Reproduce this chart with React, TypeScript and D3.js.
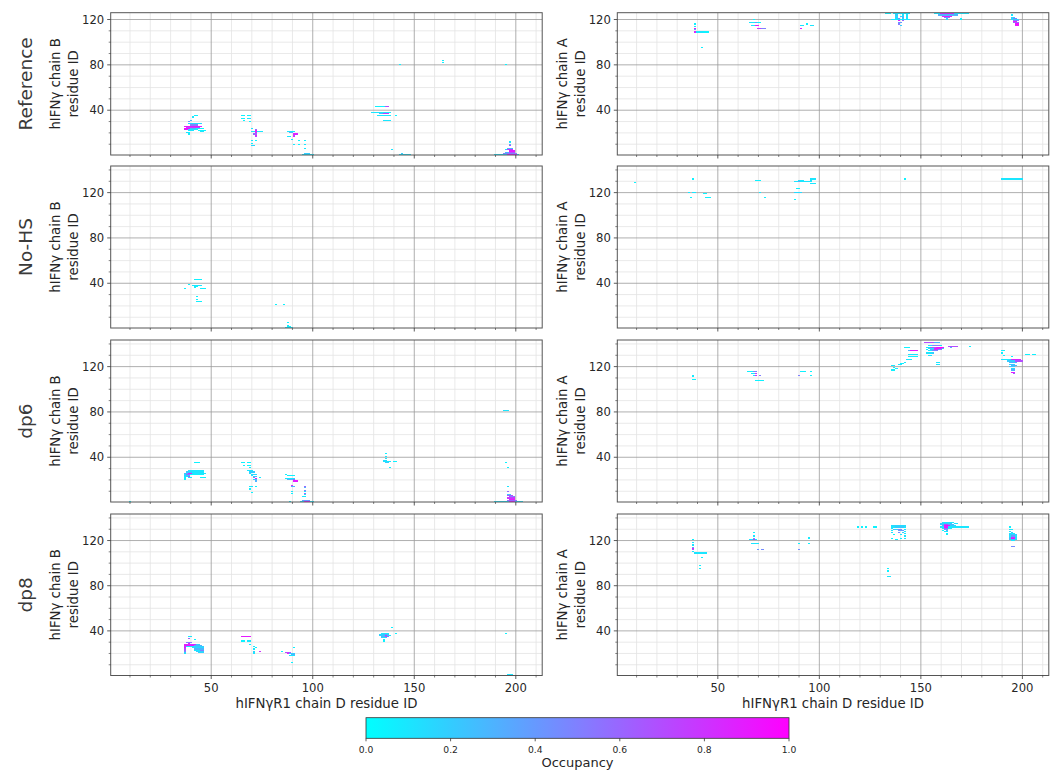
import React from 'react';
import * as d3 from 'd3';

// [x0, x1, y, occupancy] : horizontal runs of contact cells (x0..x1 inclusive, residue IDs)
type Run = [number, number, number, number];

const rowLabels = ['Reference', 'No-HS', 'dp6', 'dp8'];
const rowYMax = [126, 143.5, 143.5, 143.5];
const colYLabels = ['hIFNγ chain B', 'hIFNγ chain A'];
const yLabelLine2 = 'residue ID';
const xLabel = 'hIFNγR1 chain D residue ID';
const xDomain = [0.5, 213];
const xMajorTicks = [50, 100, 150, 200];
const xMinorTicks = [10, 20, 30, 40, 60, 70, 80, 90, 110, 120, 130, 140, 160, 170, 180, 190, 210];
const yMajorTicks = [40, 80, 120];
const yMinorTicks = [10, 20, 30, 50, 60, 70, 90, 100, 110, 130, 140];
const cbarTicks = [0, 0.2, 0.4, 0.6, 0.8, 1.0];
const cbarLabel = 'Occupancy';

const refB: Run[] = [
  [42, 43, 35, 0.05], [41, 41, 34, 0.1], [40, 40, 31, 0.3], [39, 39, 30, 0.4],
  [39, 45, 28, 0.15], [40, 43, 27, 0.5], [37, 45, 26, 0.9], [38, 44, 25, 0.75],
  [37, 39, 24, 0.95], [40, 42, 24, 0.3], [43, 46, 24, 0.05], [37, 38, 23, 0.9], [39, 43, 23, 0.1],
  [39, 41, 22, 0.1], [44, 47, 22, 0.05], [45, 46, 21, 0.1], [38, 39, 20, 0.1], [39, 39, 19, 0.05],
  [65, 66, 35, 0.05], [68, 69, 35, 0.05], [65, 66, 33, 0.05], [68, 69, 33, 0.1], [66, 66, 31, 0.05],
  [69, 69, 30, 0.05], [70, 70, 24, 0.1], [72, 72, 23, 0.6], [72, 72, 22, 0.85], [70, 71, 21, 0.1],
  [72, 72, 21, 0.9], [73, 75, 21, 0.1], [72, 72, 20, 0.8], [71, 72, 19, 0.6], [72, 72, 18, 0.9],
  [72, 72, 17, 0.7], [70, 70, 13, 0.1], [72, 72, 13, 0.05], [70, 70, 11, 0.05], [70, 71, 9, 0.15],
  [88, 91, 21, 0.1], [89, 90, 20, 0.3], [91, 92, 19, 0.85], [91, 91, 18, 0.7], [91, 91, 17, 0.9],
  [88, 89, 17, 0.1], [90, 90, 14, 0.1], [93, 93, 13, 0.05], [91, 91, 10, 0.1], [93, 93, 10, 0.05],
  [96, 96, 13, 0.05], [96, 96, 10, 0.1], [96, 96, 6, 0.1], [95, 100, 1, 0.1], [96, 98, 2, 0.2],
  [131, 135, 43, 0.05], [136, 137, 43, 0.7], [129, 138, 38, 0.1], [133, 134, 37, 0.3], [135, 137, 37, 0.8],
  [132, 138, 35, 0.1], [141, 141, 35, 0.05], [135, 138, 31, 0.1],
  [139, 139, 5, 0.1], [143, 148, 1, 0.1], [144, 144, 2, 0.2],
  [143, 143, 80, 0.05], [164, 164, 84, 0.05], [164, 164, 82, 0.05], [195, 195, 80, 0.05],
  [197, 197, 12, 0.1], [197, 197, 10, 0.3], [197, 197, 9, 0.7], [196, 198, 6, 0.3], [195, 195, 5, 0.1],
  [196, 198, 5, 0.8], [197, 199, 4, 0.9], [195, 196, 3, 0.3], [197, 199, 3, 0.7], [194, 200, 2, 0.5],
  [190, 195, 1, 0.1], [196, 200, 1, 0.9], [201, 201, 1, 0.05],
];

const refA: Run[] = [
  [39, 39, 116, 0.05], [39, 39, 114, 0.1], [39, 39, 112, 0.9], [39, 39, 111, 0.3], [39, 39, 109, 0.85],
  [40, 42, 109, 0.1], [43, 45, 109, 0.05], [42, 42, 95, 0.05],
  [68, 68, 120, 0.05], [66, 68, 117, 0.1], [69, 69, 117, 0.4], [70, 71, 117, 0.05], [67, 68, 115, 0.1],
  [69, 70, 115, 0.9], [70, 71, 112, 0.8], [72, 73, 112, 0.5],
  [91, 91, 112, 0.9], [91, 92, 115, 0.1], [94, 94, 116, 0.05], [96, 97, 115, 0.1],
  [133, 135, 125, 0.05], [137, 144, 125, 0.1], [138, 138, 124, 0.2], [141, 141, 124, 0.1], [143, 143, 124, 0.1],
  [138, 138, 123, 0.1], [140, 141, 123, 0.2], [143, 143, 123, 0.1], [138, 138, 122, 0.2], [141, 141, 122, 0.3],
  [143, 143, 122, 0.1], [138, 138, 121, 0.1], [139, 139, 121, 0.5], [141, 141, 121, 0.2], [143, 143, 121, 0.1],
  [136, 144, 120, 0.1], [139, 139, 119, 0.9], [141, 141, 119, 0.6], [139, 140, 117, 0.4], [139, 139, 116, 0.5],
  [140, 140, 115, 0.2],
  [157, 173, 125, 0.1], [160, 166, 125, 0.85], [159, 168, 124, 0.3], [161, 165, 123, 0.9], [162, 164, 122, 0.5],
  [163, 163, 121, 0.2], [163, 163, 120, 0.1], [170, 170, 121, 0.05], [170, 170, 120, 0.05],
  [195, 195, 124, 0.1], [195, 196, 122, 0.2], [195, 195, 121, 0.1], [196, 197, 121, 0.5], [195, 198, 120, 0.2],
  [196, 198, 119, 0.5], [196, 197, 118, 0.9], [196, 198, 117, 0.6], [197, 198, 116, 0.95], [197, 198, 115, 0.9],
];

const noHsB: Run[] = [
  [37, 37, 35, 0.05], [39, 39, 39, 0.05], [42, 45, 43, 0.05], [41, 45, 38, 0.1], [42, 43, 37, 0.05],
  [42, 42, 36, 0.05], [45, 47, 35, 0.05], [43, 43, 28, 0.05], [43, 43, 26, 0.05], [43, 45, 24, 0.05],
  [82, 82, 21, 0.05], [86, 86, 21, 0.05], [88, 88, 5, 0.05], [88, 88, 3, 0.1], [87, 90, 1, 0.1], [88, 89, 2, 0.05],
];

const noHsA: Run[] = [
  [9, 9, 129, 0.05], [38, 38, 132, 0.05], [36, 36, 120, 0.1], [38, 39, 120, 0.1], [37, 37, 116, 0.05],
  [43, 44, 119, 0.05], [44, 46, 116, 0.05], [69, 71, 131, 0.05], [71, 71, 120, 0.1], [73, 73, 116, 0.05],
  [88, 89, 130, 0.1], [90, 90, 130, 0.35], [91, 96, 130, 0.1], [90, 92, 131, 0.1], [89, 90, 124, 0.05],
  [88, 91, 120, 0.15], [88, 88, 114, 0.05], [96, 98, 132, 0.1], [96, 96, 131, 0.1], [96, 98, 128, 0.1],
  [142, 142, 132, 0.05], [190, 200, 132, 0.1],
];

const dp6B: Run[] = [
  [10, 10, 1, 0.05],
  [42, 44, 35, 0.05], [39, 46, 28, 0.1], [38, 40, 27, 0.2], [41, 46, 27, 0.1], [37, 38, 26, 0.3],
  [39, 40, 26, 0.85], [41, 47, 26, 0.1], [37, 37, 25, 0.1], [38, 39, 25, 0.6], [40, 46, 25, 0.05],
  [37, 39, 24, 0.2], [37, 38, 23, 0.1], [39, 39, 23, 0.7], [37, 37, 22, 0.05], [39, 40, 22, 0.1],
  [45, 47, 22, 0.05], [37, 37, 21, 0.1], [37, 37, 20, 0.05],
  [65, 66, 35, 0.05], [68, 69, 35, 0.05], [66, 66, 33, 0.05], [68, 69, 33, 0.05], [69, 69, 31, 0.05],
  [68, 70, 28, 0.1], [69, 71, 27, 0.2], [69, 69, 26, 0.1], [70, 72, 25, 0.15], [70, 70, 24, 0.1],
  [71, 72, 23, 0.2], [74, 74, 22, 0.1], [71, 71, 22, 0.5], [72, 72, 21, 0.9], [71, 72, 20, 0.2],
  [72, 72, 19, 0.3], [69, 70, 14, 0.1], [72, 72, 14, 0.05], [69, 69, 12, 0.05], [70, 70, 9, 0.05],
  [87, 87, 25, 0.05], [88, 90, 24, 0.05], [91, 91, 24, 0.05], [87, 91, 21, 0.1], [88, 90, 20, 0.3],
  [91, 91, 20, 0.6], [91, 92, 19, 0.9], [90, 90, 15, 0.8], [90, 91, 14, 0.3], [90, 90, 10, 0.1],
  [90, 90, 8, 0.05], [89, 89, 1, 0.05],
  [96, 96, 14, 0.6], [96, 96, 13, 0.3], [96, 96, 11, 0.5], [96, 96, 10, 0.1], [96, 96, 8, 0.6],
  [96, 96, 7, 0.1], [95, 96, 5, 0.1], [95, 98, 2, 0.4], [94, 95, 1, 0.1], [96, 98, 1, 0.9], [99, 100, 1, 0.1],
  [136, 136, 43, 0.05], [136, 136, 41, 0.1], [136, 136, 39, 0.1], [135, 136, 37, 0.15], [135, 138, 36, 0.1],
  [140, 141, 36, 0.05], [136, 137, 35, 0.2], [138, 138, 31, 0.05],
  [194, 196, 81, 0.1], [195, 195, 35, 0.05], [196, 196, 31, 0.05],
  [196, 196, 14, 0.1], [196, 196, 10, 0.6], [196, 197, 7, 0.2], [196, 198, 6, 0.7], [197, 199, 5, 0.5],
  [196, 199, 4, 0.8], [197, 199, 3, 0.9], [196, 200, 2, 0.6], [190, 196, 1, 0.1], [197, 199, 1, 0.9],
  [200, 203, 1, 0.1],
];

const dp6A: Run[] = [
  [38, 38, 112, 0.1], [38, 38, 111, 0.05], [38, 39, 109, 0.05],
  [65, 67, 116, 0.05], [68, 69, 116, 0.5], [67, 68, 114, 0.1], [69, 69, 114, 0.8], [68, 68, 112, 0.1],
  [69, 69, 112, 0.9], [71, 71, 112, 0.5], [69, 70, 108, 0.05], [71, 72, 108, 0.05],
  [90, 90, 112, 0.5], [91, 91, 116, 0.05], [92, 93, 116, 0.05], [96, 96, 116, 0.05], [96, 96, 112, 0.05],
  [136, 137, 121, 0.1], [137, 137, 119, 0.05], [138, 138, 118, 0.05], [136, 137, 117, 0.05],
  [139, 140, 122, 0.1], [140, 141, 123, 0.05], [142, 142, 124, 0.1], [143, 145, 126, 0.1],
  [142, 144, 137, 0.05], [145, 148, 134, 0.9], [144, 144, 134, 0.3], [144, 148, 131, 0.1], [144, 148, 129, 0.05],
  [152, 156, 141, 0.7], [157, 159, 141, 0.3], [154, 155, 139, 0.1], [156, 159, 139, 0.5], [160, 160, 139, 0.1],
  [153, 154, 137, 0.1], [155, 157, 137, 0.6], [158, 161, 137, 0.95], [154, 156, 136, 0.1], [157, 160, 136, 0.9],
  [161, 161, 136, 0.2], [153, 153, 135, 0.05], [155, 156, 135, 0.3], [157, 158, 135, 0.8], [159, 160, 135, 0.4],
  [154, 155, 134, 0.1], [156, 158, 134, 0.5], [153, 155, 132, 0.1], [156, 156, 132, 0.2], [154, 155, 130, 0.1],
  [158, 159, 124, 0.1], [158, 159, 122, 0.1], [164, 168, 138, 0.7], [165, 165, 137, 0.3], [174, 174, 138, 0.05],
  [190, 191, 134, 0.05], [190, 190, 132, 0.05], [191, 191, 130, 0.05], [195, 195, 129, 0.05],
  [190, 194, 126, 0.1], [195, 199, 126, 0.85], [193, 196, 125, 0.2], [197, 200, 125, 0.7], [194, 197, 124, 0.3],
  [194, 196, 122, 0.2], [195, 197, 121, 0.3], [194, 196, 120, 0.2], [195, 196, 118, 0.15], [195, 196, 117, 0.3],
  [195, 196, 115, 0.9], [196, 196, 114, 0.6], [202, 203, 131, 0.05], [205, 206, 131, 0.05],
];

const dp8B: Run[] = [
  [39, 40, 35, 0.1], [39, 39, 33, 0.6], [42, 42, 32, 0.05], [38, 40, 30, 0.5], [39, 39, 29, 0.9],
  [37, 42, 28, 0.85], [43, 44, 28, 0.2], [37, 37, 27, 0.9], [38, 41, 27, 0.95], [42, 45, 27, 0.3],
  [37, 37, 26, 0.8], [38, 41, 26, 0.1], [42, 46, 26, 0.2], [37, 37, 25, 0.9], [41, 46, 25, 0.15],
  [37, 37, 24, 0.7], [42, 46, 24, 0.3], [37, 37, 23, 0.6], [42, 44, 23, 0.1], [45, 46, 23, 0.5],
  [37, 37, 22, 0.5], [43, 46, 22, 0.2], [37, 37, 21, 0.2], [44, 46, 21, 0.15], [37, 37, 20, 0.1],
  [65, 69, 35, 0.9], [65, 66, 31, 0.05], [68, 69, 31, 0.1], [69, 69, 28, 0.05], [71, 71, 26, 0.1],
  [72, 72, 25, 0.05], [71, 71, 24, 0.1], [71, 71, 22, 0.2], [74, 74, 22, 0.8], [71, 71, 21, 0.1], [71, 71, 20, 0.1],
  [85, 85, 22, 0.05], [87, 89, 21, 0.7], [88, 88, 20, 0.9], [89, 91, 20, 0.2], [90, 91, 19, 0.3],
  [89, 91, 18, 0.1], [91, 91, 25, 0.05], [90, 90, 12, 0.05],
  [139, 139, 43, 0.05], [134, 137, 38, 0.1], [141, 141, 38, 0.05], [133, 134, 37, 0.15], [135, 137, 37, 0.3],
  [133, 135, 36, 0.2], [136, 136, 36, 0.8], [137, 138, 36, 0.1], [134, 135, 35, 0.3], [136, 137, 35, 0.6],
  [134, 136, 34, 0.15], [135, 135, 32, 0.1], [135, 135, 31, 0.05],
  [195, 195, 38, 0.05], [196, 198, 1, 0.1],
];

const dp8A: Run[] = [
  [38, 38, 121, 0.05], [38, 38, 118, 0.1], [38, 38, 116, 0.1], [38, 38, 114, 0.3], [38, 38, 113, 0.9],
  [38, 38, 112, 0.6], [38, 38, 110, 0.1], [39, 44, 109, 0.1], [42, 42, 105, 0.05], [41, 41, 98, 0.05],
  [41, 41, 95, 0.05],
  [68, 68, 127, 0.05], [68, 68, 124, 0.1], [68, 68, 122, 0.3], [66, 67, 121, 0.1], [68, 68, 121, 0.9],
  [69, 69, 121, 0.1], [67, 70, 117, 0.1], [70, 70, 112, 0.4], [72, 72, 112, 0.45],
  [90, 90, 117, 0.05], [90, 90, 112, 0.45], [95, 95, 123, 0.1], [95, 95, 122, 0.05], [95, 95, 117, 0.05],
  [119, 119, 132, 0.05], [121, 121, 132, 0.05], [123, 123, 132, 0.05], [127, 128, 132, 0.05],
  [134, 134, 95, 0.05], [134, 134, 93, 0.05], [134, 135, 88, 0.1],
  [136, 142, 133, 0.15], [136, 137, 132, 0.1], [138, 141, 132, 0.2], [142, 142, 132, 0.1], [136, 136, 131, 0.1],
  [137, 138, 130, 0.2], [139, 140, 130, 0.5], [142, 142, 130, 0.1], [136, 136, 129, 0.1], [139, 141, 129, 0.4],
  [142, 142, 128, 0.1], [136, 136, 127, 0.1], [139, 139, 127, 0.45], [141, 141, 127, 0.2], [142, 142, 126, 0.1],
  [137, 137, 125, 0.05], [140, 140, 125, 0.1], [142, 142, 124, 0.1], [136, 136, 122, 0.05], [140, 140, 122, 0.05],
  [142, 142, 122, 0.1], [138, 138, 121, 0.05],
  [161, 166, 136, 0.1], [160, 165, 135, 0.2], [167, 168, 135, 0.1], [160, 161, 134, 0.2], [162, 163, 134, 0.7],
  [164, 166, 134, 0.3], [161, 161, 133, 0.3], [162, 164, 133, 0.95], [165, 167, 133, 0.2], [160, 161, 132, 0.1],
  [162, 163, 132, 0.9], [164, 173, 132, 0.1], [161, 161, 131, 0.1], [162, 163, 131, 0.6], [164, 165, 131, 0.1],
  [162, 163, 130, 0.4], [161, 161, 129, 0.05], [163, 163, 129, 0.3], [162, 163, 128, 0.1], [163, 163, 126, 0.05],
  [163, 163, 125, 0.05],
  [194, 194, 132, 0.05], [194, 195, 130, 0.1], [194, 194, 128, 0.1], [195, 195, 127, 0.2], [194, 196, 126, 0.1],
  [194, 197, 125, 0.2], [194, 194, 124, 0.1], [195, 196, 124, 0.4], [197, 197, 124, 0.1], [194, 194, 123, 0.2],
  [195, 196, 123, 0.8], [197, 197, 123, 0.2], [194, 194, 122, 0.3], [195, 196, 122, 0.95], [197, 197, 122, 0.1],
  [194, 197, 121, 0.2], [195, 196, 120, 0.1], [195, 196, 115, 0.45],
];

const panelData: Run[][][] = [
  [refB, refA],
  [noHsB, noHsA],
  [dp6B, dp6A],
  [dp8B, dp8A],
];

// ---- layout ----
const W = 1056;
const H = 771;
const colLefts = [110.7, 617.3];
const colWidth = 431.5;
const rowTops = [12.7, 166, 340, 514];
const rowBottoms = [155, 328, 502, 675.5];
const FONT = 'DejaVu Sans, sans-serif';
const cbar = { x0: 366, x1: 789, y0: 717.7, y1: 738.3 };

const cool = d3.interpolateRgb('#00ffff', '#ff00ff');
const color = d3.scaleSequential(cool).domain([0, 1]);

function Panel({ r, c }: { r: number; c: number }) {
  const x = d3.scaleLinear().domain(xDomain).range([colLefts[c], colLefts[c] + colWidth]);
  const y = d3.scaleLinear().domain([0.5, rowYMax[r]]).range([rowBottoms[r], rowTops[r]]);
  const [x0, x1] = x.range();
  const [yb, yt] = y.range();
  const clipId = `clip-${r}-${c}`;
  const runs = panelData[r][c];
  const cells: { px: number; py: number; pw: number; ph: number; v: number }[] = [];
  runs.forEach(([a, b, yy, v]) => {
    for (let xi = a; xi <= b; xi++) {
      const l = Math.round(x(xi - 0.5));
      const rr = Math.round(x(xi + 0.5));
      const t = Math.round(y(yy + 0.5));
      const bt = Math.round(y(yy - 0.5));
      cells.push({ px: l, py: t, pw: Math.max(1, rr - l), ph: Math.max(1, bt - t), v });
    }
  });
  const yMinorVis = yMinorTicks.filter((t) => t < rowYMax[r]);
  const isBottom = r === rowLabels.length - 1;
  const cx = (x0 + x1) / 2;
  const cy = (yb + yt) / 2;
  const labX = colLefts[c] - 55;
  return (
    <g>
      <clipPath id={clipId}>
        <rect x={x0} y={yt} width={x1 - x0} height={yb - yt} />
      </clipPath>
      <rect x={x0} y={yt} width={x1 - x0} height={yb - yt} fill="#fff" />
      <g clipPath={`url(#${clipId})`}>
        {xMinorTicks.map((t) => (
          <line key={'gxm' + t} x1={x(t)} x2={x(t)} y1={yt} y2={yb} stroke="#e3e3e3" strokeWidth={0.8} />
        ))}
        {yMinorVis.map((t) => (
          <line key={'gym' + t} x1={x0} x2={x1} y1={y(t)} y2={y(t)} stroke="#e3e3e3" strokeWidth={0.8} />
        ))}
        {xMajorTicks.map((t) => (
          <line key={'gx' + t} x1={x(t)} x2={x(t)} y1={yt} y2={yb} stroke="#9a9a9a" strokeWidth={0.8} />
        ))}
        {yMajorTicks.map((t) => (
          <line key={'gy' + t} x1={x0} x2={x1} y1={y(t)} y2={y(t)} stroke="#9a9a9a" strokeWidth={0.8} />
        ))}
        {cells.map((d, i) => (
          <rect key={i} x={d.px} y={d.py} width={d.pw} height={d.ph} fill={color(d.v)} shapeRendering="crispEdges" />
        ))}
      </g>
      <rect x={x0} y={yt} width={x1 - x0} height={yb - yt} fill="none" stroke="#555" strokeWidth={1} />
      {/* x ticks */}
      {xMajorTicks.map((t) => (
        <line key={'xt' + t} x1={x(t)} x2={x(t)} y1={yb} y2={yb + 3.5} stroke="#333" strokeWidth={0.8} />
      ))}
      {xMinorTicks.map((t) => (
        <line key={'xmt' + t} x1={x(t)} x2={x(t)} y1={yb} y2={yb + 2} stroke="#333" strokeWidth={0.6} />
      ))}
      {/* y ticks */}
      {yMajorTicks.map((t) => (
        <g key={'yt' + t}>
          <line x1={x0 - 3.5} x2={x0} y1={y(t)} y2={y(t)} stroke="#333" strokeWidth={0.8} />
          <text x={x0 - 6.5} y={y(t)} dy="0.35em" textAnchor="end" fontSize={11.6} fontFamily={FONT} fill="#262626">
            {t}
          </text>
        </g>
      ))}
      {yMinorVis.map((t) => (
        <line key={'ymt' + t} x1={x0 - 2} x2={x0} y1={y(t)} y2={y(t)} stroke="#333" strokeWidth={0.6} />
      ))}
      {isBottom &&
        xMajorTicks.map((t) => (
          <text key={'xl' + t} x={x(t)} y={687.7} dy="0.35em" textAnchor="middle" fontSize={11.6} fontFamily={FONT} fill="#262626">
            {t}
          </text>
        ))}
      {isBottom && (
        <text x={cx} y={703.8} dy="0.35em" textAnchor="middle" fontSize={13.3} fontFamily={FONT} fill="#262626">
          {xLabel}
        </text>
      )}
      {/* y label, two lines */}
      <text transform={`translate(${labX},${cy}) rotate(-90)`} dy="0.35em" textAnchor="middle" fontSize={13.3} fontFamily={FONT} fill="#262626">
        {colYLabels[c]}
      </text>
      <text transform={`translate(${labX + 17.6},${cy}) rotate(-90)`} dy="0.35em" textAnchor="middle" fontSize={13.3} fontFamily={FONT} fill="#262626">
        {yLabelLine2}
      </text>
    </g>
  );
}

function Colorbar() {
  const s = d3.scaleLinear().domain([0, 1]).range([cbar.x0, cbar.x1]);
  const stops = d3.range(0, 1.0001, 0.1);
  return (
    <g>
      <defs>
        <linearGradient id="coolgrad" x1="0" x2="1" y1="0" y2="0">
          {stops.map((t) => (
            <stop key={t} offset={`${t * 100}%`} stopColor={color(t)} />
          ))}
        </linearGradient>
      </defs>
      <rect x={cbar.x0} y={cbar.y0} width={cbar.x1 - cbar.x0} height={cbar.y1 - cbar.y0} fill="url(#coolgrad)" stroke="#333" strokeWidth={0.8} />
      {cbarTicks.map((t) => (
        <g key={t}>
          <line x1={s(t)} x2={s(t)} y1={cbar.y1} y2={cbar.y1 + 3} stroke="#333" strokeWidth={0.8} />
          <text x={s(t)} y={750.2} dy="0.35em" textAnchor="middle" fontSize={9.2} fontFamily={FONT} fill="#262626">
            {t.toFixed(1)}
          </text>
        </g>
      ))}
      <text x={(cbar.x0 + cbar.x1) / 2} y={762.8} dy="0.35em" textAnchor="middle" fontSize={13} fontFamily={FONT} fill="#262626">
        {cbarLabel}
      </text>
    </g>
  );
}

export default function App() {
  return (
    <svg width={W} height={H} style={{ position: 'absolute', left: 0, top: 0, background: '#fff' }}>
      <rect width={W} height={H} fill="#fff" />
      {rowLabels.map((lab, r) => (
        <text
          key={lab}
          transform={`translate(25.4,${(rowTops[r] + rowBottoms[r]) / 2}) rotate(-90)`}
          dy="0.35em"
          textAnchor="middle"
          fontSize={18.5}
          fontFamily={FONT}
          fill="#3a3a3a"
        >
          {lab}
        </text>
      ))}
      {rowLabels.map((_, r) => [0, 1].map((c) => <Panel key={`${r}-${c}`} r={r} c={c} />))}
      <Colorbar />
    </svg>
  );
}
